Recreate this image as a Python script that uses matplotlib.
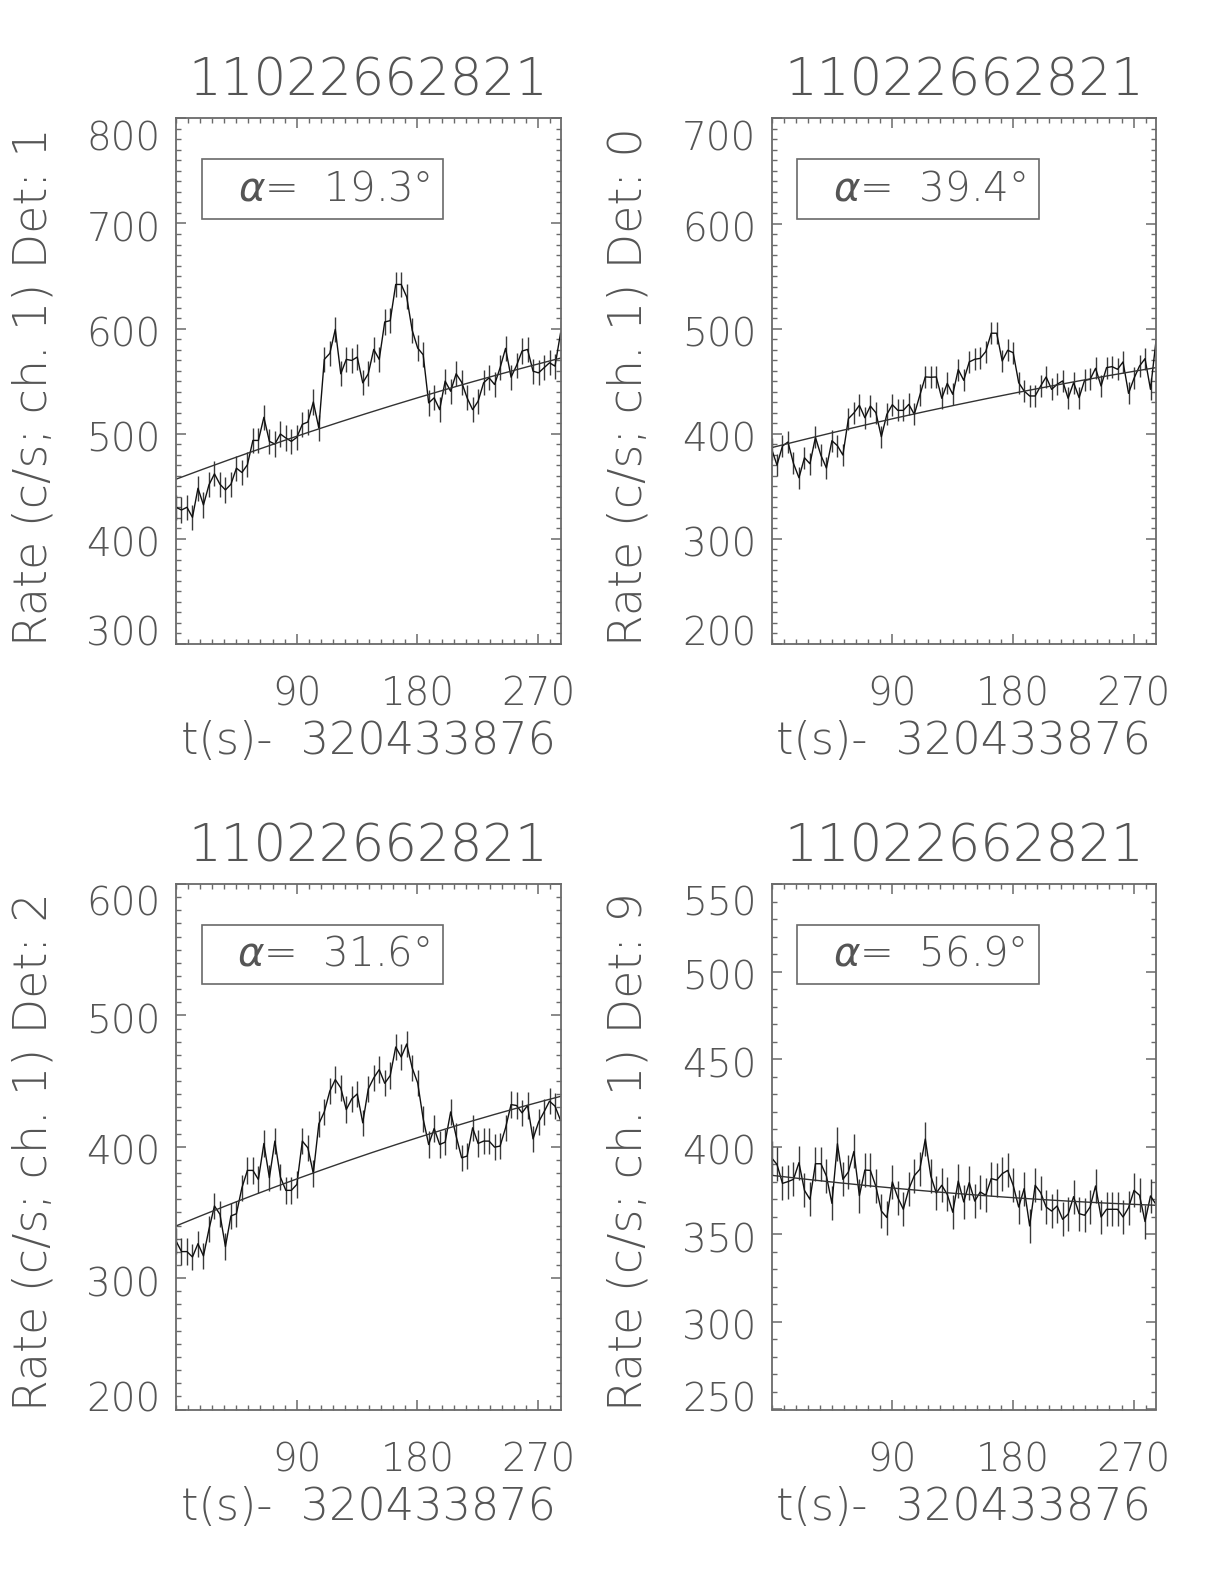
import numpy as np
import matplotlib
matplotlib.use("Agg")
import matplotlib.pyplot as plt
from matplotlib.ticker import FixedLocator, MultipleLocator
from matplotlib.transforms import ScaledTranslation
from matplotlib.patches import Rectangle

plt.rcParams['font.family'] = ['DejaVu Sans']
plt.rcParams['mathtext.fontset'] = 'dejavusans'

# ---------------- data ----------------
BIN_WIDTH = 4.096          # s
T0_LABEL = "t(s)-  320433876"
TITLE = "11022662821"

rate_det1 = [430.0, 427.4, 430.0, 420.4, 448.1, 432.2, 451.3, 461.8, 451.9, 446.5,
             451.9, 467.2, 463.1, 470.4, 493.6, 493.6, 515.6, 492.7, 490.1, 499.7,
             495.9, 492.7, 496.5, 508.9, 511.1, 530.2, 505.4, 570.7, 576.4, 599.3,
             557.0, 570.7, 569.7, 572.9, 548.4, 557.0, 580.2, 570.7, 606.3, 607.6,
             642.0, 642.0, 630.2, 598.4, 581.5, 575.1, 529.3, 534.1, 522.9, 550.0,
             540.4, 557.0, 549.0, 534.1, 522.9, 530.9, 548.4, 553.2, 546.8, 562.7,
             581.2, 553.8, 564.9, 578.6, 580.2, 559.5, 557.9, 562.7, 567.5, 564.3,
             595.5]
rate_det0 = [385.7, 370.2, 388.3, 392.1, 371.7, 358.1, 377.1, 371.4, 396.5, 379.4,
             367.3, 393.3, 388.6, 379.7, 414.3, 419.7, 427.0, 415.2, 426.3, 420.0,
             397.1, 418.4, 427.6, 422.2, 422.2, 427.9, 418.4, 436.5, 454.0, 453.7,
             454.0, 433.7, 447.9, 437.5, 461.0, 450.8, 468.3, 470.8, 471.7, 478.1,
             495.6, 495.6, 469.2, 479.4, 477.1, 448.6, 440.6, 435.9, 435.9, 445.4,
             454.0, 442.2, 447.0, 450.2, 433.7, 448.6, 434.3, 450.8, 451.7, 462.2,
             445.4, 462.9, 463.8, 461.3, 468.3, 438.4, 452.7, 464.4, 471.4, 442.2,
             488.3]
rate_det2 = [328.3, 320.2, 320.2, 316.1, 326.2, 316.9, 337.2, 354.9, 348.6, 324.0,
             347.3, 349.0, 368.8, 382.0, 382.0, 375.1, 402.5, 376.4, 404.3, 376.9,
             366.8, 366.8, 371.3, 404.3, 399.2, 379.7, 417.4, 426.6, 442.3, 451.1,
             444.8, 428.3, 436.4, 440.2, 418.2, 444.0, 452.4, 458.7, 448.3, 454.2,
             475.9, 468.3, 478.2, 460.0, 448.6, 421.2, 401.7, 413.9, 401.7, 403.5,
             426.5, 408.1, 391.6, 392.9, 414.4, 402.5, 404.3, 404.3, 399.7, 400.5,
             414.4, 432.1, 431.4, 425.8, 431.4, 406.0, 418.7, 426.5, 434.7, 430.9,
             420.2]
rate_det9 = [393.7, 389.9, 379.1, 380.1, 381.4, 390.9, 375.1, 370.0, 390.3, 390.3,
             383.3, 367.7, 401.7, 381.4, 385.6, 397.3, 372.1, 386.7, 386.5, 377.4,
             363.3, 359.6, 379.9, 370.9, 364.3, 375.9, 383.5, 387.1, 404.4, 383.3,
             373.6, 378.0, 372.8, 362.6, 380.4, 368.5, 379.5, 369.0, 374.2, 372.3,
             381.8, 381.0, 384.6, 386.5, 378.0, 365.6, 376.1, 354.8, 378.0, 373.8,
             365.6, 363.3, 366.2, 358.6, 361.5, 371.5, 361.8, 360.9, 365.6, 377.6,
             359.9, 364.3, 364.3, 364.3, 359.9, 365.2, 375.1, 372.3, 357.3, 371.9,
             367.1]

# 1-sigma error per panel (c/s)
err_det1 = 12.0
err_det0 = 10.5
err_det2 = 10.0
err_det9 = 9.7

# quadratic background fit coefficients  a + b t + c t^2
fit_det1 = [456.7, 0.478, -0.000266]
fit_det0 = [386.7, 0.323, -0.000200]
fit_det2 = [339.7, 0.422, -0.000272]
fit_det9 = [383.7, -0.0900, 0.0001058]

detectors = ["1", "0", "2", "9"]
angles = ["19.3", "39.4", "31.6", "56.9"]
ylims = [(300, 800), (200, 700), (200, 600), (250, 550)]
ymajor = [100, 100, 100, 50]
xticks_major = [90, 180, 270]

panels = [
    (rate_det1, err_det1, fit_det1),
    (rate_det0, err_det0, fit_det0),
    (rate_det2, err_det2, fit_det2),
    (rate_det9, err_det9, fit_det9),
]

# ---------------- layout ----------------
W, H = 1224, 1584
fig = plt.figure(figsize=(W / 100, H / 100), dpi=100)
fig.patch.set_facecolor('white')

TXT = '#555555'
AX_C = '#6a6a6a'
lefts = [176, 771.5, 176, 771.5]
tops = [118.4, 118.4, 884.0, 884.0]
aw, ah = 384.5, 525.5

for k, ((rates, err, fit), det, ang, yl, ym) in enumerate(
        zip(panels, detectors, angles, ylims, ymajor)):
    l, t = lefts[k], tops[k]
    ax = fig.add_axes([l / W, 1 - (t + ah) / H, aw / W, ah / H])
    rates = np.asarray(rates)
    tt = np.arange(len(rates)) * BIN_WIDTH

    ax.vlines(tt, rates - err, rates + err, colors='#3a3a3a', lw=1.0)
    ax.plot(tt, rates, color='#111111', lw=1.0)
    tf = np.linspace(tt[0], tt[-1], 300)
    ax.plot(tf, fit[0] + fit[1] * tf + fit[2] * tf ** 2, color='#333333', lw=1.0)

    ax.set_xlim(tt[0], tt[-1])
    ax.set_ylim(*yl)

    for sp in ax.spines.values():
        sp.set_color(AX_C)
        sp.set_linewidth(1.3)

    ax.xaxis.set_major_locator(FixedLocator(xticks_major))
    ax.xaxis.set_minor_locator(MultipleLocator(9))
    ax.yaxis.set_major_locator(MultipleLocator(ym))
    ax.yaxis.set_minor_locator(MultipleLocator(10))
    ax.tick_params(which='both', direction='in', top=True, right=True,
                   color=AX_C, labelcolor=TXT)
    ax.tick_params(which='major', length=7, width=1.1)
    ax.tick_params(which='minor', length=3.5, width=1.0)
    ax.tick_params(axis='x', labelsize=28, pad=23)
    ax.tick_params(axis='y', labelsize=28, pad=11)

    yticks = np.arange(yl[0], yl[1] + 0.1, ym)
    ax.set_yticks(yticks)
    ax.set_yticklabels([f"{v:.0f}" for v in yticks], fontweight='light')
    ax.set_xticklabels([str(v) for v in xticks_major], fontweight='light')

    ylabs = ax.get_yticklabels()
    ylabs[0].set_transform(ylabs[0].get_transform() +
                           ScaledTranslation(0, 0.13, fig.dpi_scale_trans))
    ylabs[-1].set_transform(ylabs[-1].get_transform() +
                            ScaledTranslation(0, -0.17, fig.dpi_scale_trans))
    for lab in ylabs[1:-1]:
        lab.set_transform(lab.get_transform() +
                          ScaledTranslation(0, -0.03, fig.dpi_scale_trans))

    ax.set_title(TITLE, fontsize=37, color=TXT, pad=0, y=1.0705,
                 va='center', fontweight='light')
    ax.set_xlabel(T0_LABEL, fontsize=32, color=TXT, fontweight='light')
    ax.xaxis.set_label_coords(0.5, -0.1865)
    ax.xaxis.label.set_va('center')
    ax.set_ylabel(f"Rate (c/s; ch. 1) Det: {det}", fontsize=33, color=TXT,
                  fontweight='light')
    ax.yaxis.set_label_coords(-0.371, 0.49)
    ax.yaxis.label.set_va('center')

    ax.add_patch(Rectangle((0.067, 0.809), 0.628, 0.113, transform=ax.transAxes,
                           fill=False, ec=AX_C, lw=1.2, zorder=5))
    ax.text(0.41, 0.866, r"$\alpha$= " + f" {ang}°", transform=ax.transAxes,
            fontsize=29, color=TXT, ha='center', va='center', fontweight='light')

fig.savefig("out.png", dpi=100, facecolor='white')
